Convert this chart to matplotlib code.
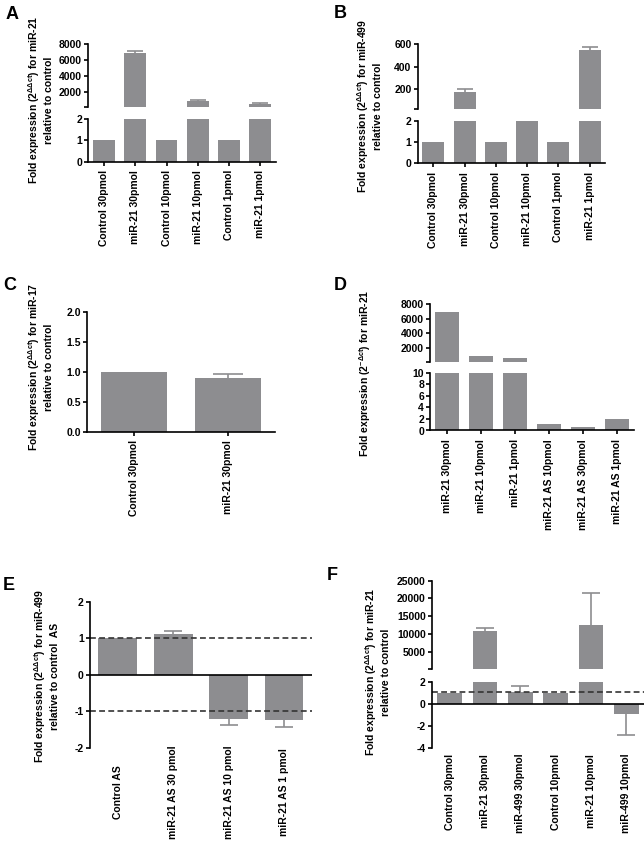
import matplotlib
matplotlib.use('Agg')
import matplotlib.pyplot as plt
import numpy as np

plt.rcParams['font.family'] = ['Liberation Sans', 'DejaVu Sans']
plt.rcParams['font.weight'] = 'bold'
plt.rcParams['axes.unicode_minus'] = False
plt.rcParams['mathtext.fontset'] = 'custom'
plt.rcParams['mathtext.rm'] = 'Liberation Sans:bold'
plt.rcParams['mathtext.it'] = 'Liberation Sans:bold'
plt.rcParams['mathtext.bf'] = 'Liberation Sans:bold'

# ---- data ----
a_labels = ['Control 30pmol', 'miR-21 30pmol', 'Control 10pmol', 'miR-21 10pmol', 'Control 1pmol', 'miR-21 1pmol']
a_values = [1, 6850, 1, 870, 1, 500]
a_err = [0, 300, 0, 200, 0, 150]

b_labels = ['Control 30pmol', 'miR-21 30pmol', 'Control 10pmol', 'miR-21 10pmol', 'Control 1pmol', 'miR-21 1pmol']
b_values = [1, 176, 1, 10, 1, 549]
b_err = [0, 21, 0, 0, 0, 24]

c_labels = ['Control 30pmol', 'miR-21 30pmol']
c_values = [1.0, 0.895]
c_err = [0, 0.075]

d_labels = ['miR-21 30pmol', 'miR-21 10pmol', 'miR-21 1pmol', 'miR-21 AS 10pmol', 'miR-21 AS 30pmol', 'miR-21 AS 1pmol']
d_values = [6890, 890, 530, 1.15, 0.6, 2.05]
d_err = [0, 0, 0, 0, 0, 0]

e_labels = ['Control AS', 'miR-21 AS 30 pmol', 'miR-21 AS 10 pmol', 'miR-21 AS 1 pmol']
e_values = [1.0, 1.12, -1.23, -1.24]
e_err = [0, 0.07, 0.14, 0.21]

f_labels = ['Control 30pmol', 'miR-21 30pmol', 'miR-499 30pmol', 'Control 10pmol', 'miR-21 10pmol', 'miR-499 10pmol']
f_values = [1.0, 10930, 1.05, 1.0, 12540, -0.9]
f_err = [0, 850, 0.55, 0, 9100, 1.9]

W, H = 644, 847
fig = plt.figure(figsize=(W / 100, H / 100), dpi=100)

GRAY = '#8d8d90'
LW = 1.2
FS = 7.5


def px_axes(left, top, right, bottom):
    return fig.add_axes([left / W, 1 - bottom / H, (right - left) / W, (bottom - top) / H])


def style(ax, xticks=True):
    for s in ['top', 'right']:
        ax.spines[s].set_visible(False)
    for s in ['left', 'bottom']:
        ax.spines[s].set_linewidth(LW)
    ax.tick_params(axis='both', width=LW, length=3, labelsize=FS, pad=1.5)
    if not xticks:
        ax.tick_params(axis='x', length=0)


def draw_bars(ax, values, err, cap, lo, hi):
    # bars are clipped by the axes; error bars only drawn where they fall inside
    x = np.arange(len(values))
    ax.bar(x, values, width=0.7, color=GRAY, edgecolor='none')
    for xi, v, e in zip(x, values, err):
        if e > 0:
            end = v + e if v >= 0 else v - e
            if not (lo <= end <= hi):
                continue
            ax.vlines(xi, v, end, color=GRAY, lw=LW)
            ax.plot([xi], [end], marker='_', ms=cap, mew=LW, color=GRAY, ls='none')
    ax.set_xlim(-0.5, len(values) - 0.5)
    ax.set_ylim(lo, hi)


def upper(ax, lo, hi, ticks):
    style(ax)
    ax.spines['bottom'].set_visible(False)
    ax.set_xticks([])
    ax.set_ylim(lo, hi)
    ax.set_yticks([lo] + ticks)
    ax.set_yticklabels([''] + [str(t) for t in ticks])


def xlabels(ax, labels):
    ax.set_xticks(np.arange(len(labels)))
    ax.set_xticklabels(labels, rotation=90, fontsize=FS)
    ax.tick_params(axis='x', pad=3)


def ylabel(x, y, s):
    fig.text(x / W, 1 - y / H, s, rotation=90, ha='center', va='center',
             fontsize=FS, multialignment='center', linespacing=1.25)


def letter(x, y, s):
    fig.text(x / W, 1 - y / H, s, fontsize=13, fontweight='bold', ha='left', va='top')


# ---- Panel A ----
ax = px_axes(88.3, 44.3, 276, 107.3)
draw_bars(ax, a_values, a_err, 11, 100, 8000)
upper(ax, 100, 8000, [2000, 4000, 6000, 8000])
ax = px_axes(88.3, 119.3, 276, 161.7)
draw_bars(ax, a_values, a_err, 11, 0, 2)
style(ax)
ax.set_yticks([0, 1, 2])
xlabels(ax, a_labels)
ylabel(40, 100, 'Fold expression (2$^{\\Delta\\Delta ct}$) for miR-21\nrelative to control')
letter(6, 6, 'A')

# ---- Panel B ----
ax = px_axes(417.7, 44.3, 605.3, 109)
draw_bars(ax, b_values, b_err, 11, 20, 600)
upper(ax, 20, 600, [200, 400, 600])
ax = px_axes(417.7, 120.7, 605.3, 163.3)
draw_bars(ax, b_values, b_err, 11, 0, 2)
style(ax)
ax.set_yticks([0, 1, 2])
xlabels(ax, b_labels)
ylabel(368.7, 106, 'Fold expression (2$^{\\Delta\\Delta ct}$) for miR-499\nrelative to control')
letter(334, 5, 'B')

# ---- Panel C ----
ax = px_axes(87.3, 312.3, 275, 431.7)
draw_bars(ax, c_values, c_err, 21, 0, 2)
style(ax)
ax.set_yticks([0, 0.5, 1.0, 1.5, 2.0])
ax.set_yticklabels(['0.0', '0.5', '1.0', '1.5', '2.0'])
xlabels(ax, c_labels)
ylabel(40, 367, 'Fold expression (2$^{\\Delta\\Delta ct}$) for miR-17\nrelative to control')
letter(3, 277, 'C')

# ---- Panel D ----
ax = px_axes(430.3, 304.3, 633.7, 361.7)
draw_bars(ax, d_values, d_err, 11, 60, 8000)
upper(ax, 60, 8000, [2000, 4000, 6000, 8000])
ax = px_axes(430.3, 372.7, 633.7, 430.5)
draw_bars(ax, d_values, d_err, 11, 0, 10)
style(ax)
ax.set_yticks([0, 2, 4, 6, 8, 10])
xlabels(ax, d_labels)
ylabel(364.7, 373, 'Fold expression (2$^{-\\Delta ct}$) for miR-21')
letter(334, 277, 'D')

# ---- Panel E ----
ax = px_axes(90, 601.7, 311.7, 747.5)
draw_bars(ax, e_values, e_err, 13, -2, 2)
style(ax, xticks=False)
ax.spines['bottom'].set_visible(False)
ax.axhline(0, color='black', lw=LW)
for yv in [1, -1]:
    ax.axhline(yv, color='#333333', lw=LW, ls=(0, (3.5, 2)))
ax.set_yticks([-2, -1, 0, 1, 2])
xlabels(ax, e_labels)
ax.tick_params(axis='x', pad=32)
plt.setp(ax.get_xticklabels(), va='center')
ylabel(46.5, 676, 'Fold expression (2$^{\\Delta\\Delta ct}$) for miR-499\nrelative to control  AS')
letter(3, 577, 'E')

# ---- Panel F ----
ax = px_axes(432, 580.7, 644, 669)
draw_bars(ax, f_values, f_err, 13, 130, 25000)
upper(ax, 130, 25000, [5000, 10000, 15000, 20000, 25000])
ax = px_axes(432, 681.7, 644, 748.3)
draw_bars(ax, f_values, f_err, 13, -4, 2)
style(ax, xticks=False)
ax.spines['bottom'].set_visible(False)
ax.axhline(0, color='black', lw=LW)
ax.axhline(1.1, color='#333333', lw=LW, ls=(0, (3.5, 2)))
ax.set_yticks([-4, -2, 0, 2])
xlabels(ax, f_labels)
ax.tick_params(axis='x', pad=4)
ylabel(377, 672, 'Fold expression (2$^{\\Delta\\Delta ct}$) for miR-21\nrelative to control')
letter(327, 567, 'F')

fig.savefig('out.png', dpi=100)
